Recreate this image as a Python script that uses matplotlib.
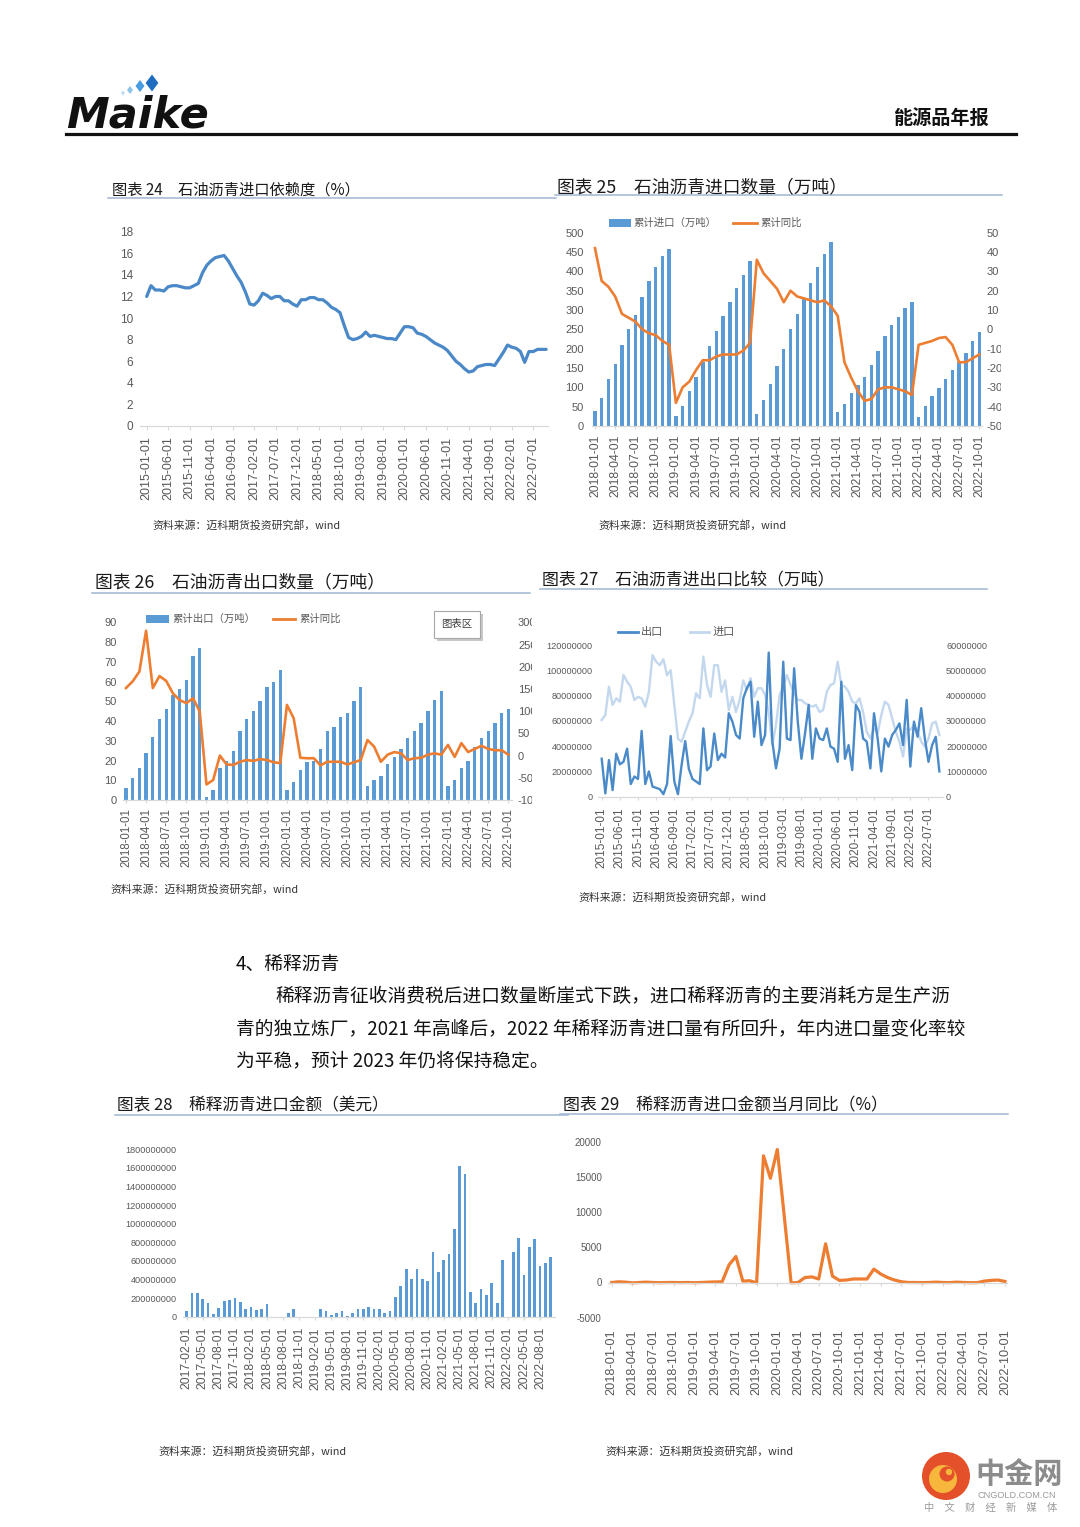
import numpy as np
import pandas as pd
import matplotlib
matplotlib.use('Agg')
import matplotlib.pyplot as plt
from matplotlib import font_manager as fm
from matplotlib.patches import Rectangle, Polygon, Circle
from matplotlib.transforms import Bbox, TransformedBbox

# ---------------------------------------------------------------- data
# Chart 24: import dependency (%), monthly 2015-01 .. 2022-10
dep_months = pd.date_range('2015-01-01', '2022-10-01', freq='MS')
dep_pct = [12.0, 13.0, 12.6, 12.6, 12.5, 12.9, 13.0, 13.0, 12.9, 12.8, 12.8, 13.0,
           13.2, 14.2, 14.9, 15.3, 15.6, 15.7, 15.8, 15.3, 14.6, 13.9, 13.3, 12.4,
           11.3, 11.2, 11.6, 12.3, 12.1, 11.8, 12.0, 12.0, 11.6, 11.6, 11.3, 11.1,
           11.7, 11.7, 11.9, 11.9, 11.7, 11.7, 11.4, 11.0, 10.8, 10.5, 9.3, 8.2,
           8.0, 8.1, 8.3, 8.7, 8.3, 8.4, 8.3, 8.2, 8.1, 8.1, 8.0, 8.6,
           9.2, 9.2, 9.1, 8.6, 8.5, 8.3, 8.0, 7.7, 7.5, 7.3, 7.0, 6.5,
           6.0, 5.7, 5.3, 5.0, 5.1, 5.5, 5.6, 5.7, 5.7, 5.6, 6.2, 6.8,
           7.5, 7.3, 7.2, 6.9, 5.9, 6.9, 6.9, 7.1, 7.1, 7.1]

# Charts 25/26: cumulative import / export (万吨) and cumulative YoY (%), 2018-01 .. 2022-10
m18 = pd.date_range('2018-01-01', '2022-10-01', freq='MS')
imp_cum = [38, 73, 121, 161, 210, 250, 288, 333, 375, 412, 440, 459,
           25, 52, 90, 128, 165, 208, 245, 285, 320, 357, 390, 428,
           30, 68, 108, 155, 200, 250, 290, 330, 370, 410, 445, 475,
           35, 58, 85, 105, 128, 158, 195, 232, 260, 283, 305, 320,
           22, 52, 78, 98, 122, 145, 165, 190, 220, 242]
imp_yoy = [42, 25, 22, 17, 8, 6, 4, 0, -2, -3, -6, -8,
           -38, -30, -27, -21, -16, -16, -14, -13, -13, -13, -11, -7,
           36, 29, 25, 21, 14, 20, 17, 16, 15, 14, 15, 12,
           7, -17, -25, -32, -37, -36, -31, -30, -30, -31, -32, -34,
           -8, -7, -6, -4.5, -4, -8, -17, -17, -15, -13]
exp_cum = [6, 11, 16, 24, 32, 41, 46, 53, 56, 61, 73, 77,
           1.5, 5, 16, 20, 25, 35, 41, 45, 50, 57, 60, 66,
           5, 9, 15, 19, 20, 26, 35, 37, 42, 44, 50, 57,
           7, 10, 12.4, 18, 22, 26, 31.5, 35, 39, 45, 50.6, 55,
           7, 10, 16, 20, 27, 31.5, 35, 39, 44, 46]
exp_yoy = [152, 167, 189, 281, 152, 179, 168, 140, 125, 118, 129, 99,
           -65, -55, 0, -20, -21, -14, -10, -12, -8, -10, -15, -17,
           114, 84, -5, -6, -6, -22, -14, -14, -14, -20, -15, -10,
           35, 20, -14, 2, 8, 5, -10, -6, -5, 2, 5, 2,
           24, -3, 28, 8, 15, 22, 15, 12, 12, 2]

# Chart 27: monthly export / import, 2015-01 .. 2022-10 (values in millions)
cmp_months = pd.date_range('2015-01-01', '2022-10-01', freq='MS')
cmp_export_mn = [15, 1.3, 14.5, 2.6, 17, 12.8, 13.8, 19, 5, 8, 7, 26,
                 5, 10, 4, 3.5, 3, 1, 5, 24, 6, 1, 12.5, 22,
                 11, 7, 6, 5, 27, 10.5, 12, 25, 14.5, 17, 15.5, 33,
                 29.7, 24.4, 23, 39, 43, 45.5, 23.7, 37.6, 20.4, 24.4, 57, 21.8,
                 11.2, 19, 53.4, 23, 22.4, 50.8, 29.7, 15, 25, 36.3, 15, 27,
                 23, 22.4, 27, 19.8, 19, 13.8, 45.5, 15, 20.4, 10.5, 36.3, 33.6,
                 23, 21.8, 11.2, 33, 23, 10, 23, 19.8, 24.4, 26.4, 29, 20.4,
                 38.3, 11.9, 29.7, 23.7, 35, 23, 13.8, 20.4, 23.7, 10]
cmp_import_mn = [60.7, 64.6, 87, 72.6, 77.8, 75.2, 96.3, 91, 87, 76.5, 79, 77.8,
                 71.2, 83, 112, 106.8, 104, 108.7, 96, 100, 72.6, 46, 43.5, 51.4,
                 59.4, 66, 81.8, 77.8, 110.8, 88.4, 79, 104, 104, 83, 92, 68.6,
                 79, 67, 76.5, 92, 84.4, 93.7, 79, 85.8, 85.8, 80.5, 67, 40.9,
                 56.7, 80.5, 87, 96.3, 88.4, 81.8, 76.5, 76.5, 73.9, 72.6, 71.2, 72.6,
                 67, 68.6, 83, 88.4, 89.7, 106.8, 88.4, 87, 83, 75.2, 73.9, 77.8,
                 67, 51.4, 46, 54, 50, 64.6, 75.2, 72.6, 62, 51.4, 43.5, 31.7,
                 54, 52.8, 56.7, 51.4, 43.5, 39.6, 46, 58, 59.4, 48.8]

# Chart 28: diluted bitumen import amount (USD, in 1e8), 2017-02 .. 2022-10
dil_months = pd.date_range('2017-02-01', '2022-10-01', freq='MS')
dil_amount_e8 = [0.65, 2.6, 2.6, 1.9, 1.45, 0.3, 0.9, 1.7, 1.8, 2.0, 1.55, 0.8,
                 1.0, 0.7, 0.8, 1.4, 0, 0, 0, 0.4, 0.8, 0, 0, 0,
                 0, 0.8, 0.65, 0.2, 0.4, 0.6, 0.1, 0.45, 0.8, 0.8, 1.0, 0.8,
                 0.8, 0.35, 0.65, 2.15, 3.3, 5.1, 4.1, 5.1, 4.05, 3.8, 6.95, 4.85,
                 6.1, 6.75, 9.4, 16.2, 15.3, 2.7, 1.45, 2.95, 2.35, 3.6, 1.45, 6.1,
                 0, 6.95, 8.45, 4.45, 7.5, 8.35, 5.5, 5.75, 6.45]

# Chart 29: monthly YoY of diluted bitumen import amount (%), 2018-01 .. 2022-10
dil_yoy = [0, 100, 50, -50, 0, 50, 0, -30, 0, 0, -20, 0,
           -30, 0, 50, 80, 100, 2500, 3700, 200, 250, -50, 18000, 14800,
           18900, 9500, -50, 0, 700, 800, 500, 5500, 900, 300, 350, 500,
           500, 500, 1900, 1200, 700, 350, 100, 0, 0, -20, 0, 50,
           0, -20, 50, 0, -30, -20, 200, 300, 350, 150]

# ---------------------------------------------------------------- style
W, H = 1080, 1527
CJK = 'Noto Sans CJK SC'
REG = 'Liberation Sans'
plt.rcParams['font.family'] = [REG, CJK, 'DejaVu Sans']
plt.rcParams['axes.unicode_minus'] = False

BAR = '#5b9bd5'
ORG = '#ed7d31'
LINE = '#4a88c7'
DARK = '#4a8ac9'
LIGHT = '#c3d8ee'
TICKC = '#595959'
AXC = '#d9d9d9'
ULINE = '#9fb6d3'

fig = plt.figure(figsize=(W / 100, H / 100), dpi=100)
fig.patch.set_facecolor('white')

# overlay in pixel coordinates for page decorations
ov = fig.add_axes([0, 0, 1, 1])
ov.set_xlim(0, W)
ov.set_ylim(H, 0)
ov.set_autoscale_on(False)
ov.axis('off')


def base_axes(x0, x1, ytop, ybot):
    ax = fig.add_axes([x0 / W, 1 - ybot / H, (x1 - x0) / W, (ybot - ytop) / H])
    ax.patch.set_alpha(0)
    for s in ax.spines.values():
        s.set_visible(False)
    return ax


def set_xcats(ax, labels, step, size, tick_len=2.5, pad=4.5):
    pos = np.arange(0, len(labels), step)
    ax.set_xticks(pos)
    ax.set_xticklabels([labels[i] for i in pos], rotation=90, fontsize=size,
                       color=TICKC, family=[REG, CJK])
    ax.tick_params(axis='x', length=tick_len, width=0.8, color=AXC, pad=pad)
    ax.spines['bottom'].set_visible(True)
    ax.spines['bottom'].set_color(AXC)
    ax.spines['bottom'].set_linewidth(0.9)


def set_yvals(ax, ticks, size, pad):
    ax.set_yticks(ticks)
    ax.set_yticklabels([f'{t:.0f}' for t in ticks], fontsize=size, color=TICKC,
                       family=[REG, CJK])
    ax.tick_params(axis='y', length=0, pad=pad)


def clip_labels(ax, xclip):
    bb = TransformedBbox(Bbox([[0, 0], [xclip / W, 1]]), fig.transFigure)
    for lab in ax.get_yticklabels():
        lab.set_clip_box(bb)
        lab.set_clip_on(True)


def title(x, y, s, size, x0, x1, yl):
    ov.text(x, y, s, fontsize=size, family=[CJK], color='#1a1a1a', va='center', ha='left')
    ov.plot([x0, x1], [yl, yl], color=ULINE, lw=1.1)


def source(x, y):
    ov.text(x, y, '资料来源：迈科期货投资研究部，wind', fontsize=7.8, family=[CJK],
            color='#333333', va='center', ha='left')


def dlabels(idx):
    return [d.strftime('%Y-%m-%d') for d in idx]


# ---------------------------------------------------------------- header
ov.text(66, 127, 'Maike', fontsize=31, family='DejaVu Sans', weight='bold',
        style='italic', color='#111111', va='baseline', ha='left')
for cx, cy, h, c in [(123, 93, 2.5, '#b9dcf5'), (130, 90, 4, '#8fc3ea'),
                     (140, 86, 6, '#4a9be0'), (152, 83, 8.5, '#1d6cc0')]:
    ov.add_patch(Polygon([(cx, cy - h), (cx + h * 0.75, cy), (cx, cy + h), (cx - h * 0.75, cy)],
                         closed=True, color=c, lw=0))
ov.text(893, 119, '能源品年报', fontsize=13.8, family=[CJK], weight='bold', color='#111111',
        va='center', ha='left')
ov.plot([66, 1016], [133.5, 133.5], color='#111111', lw=2.3)

# ---------------------------------------------------------------- chart 24
title(112, 190, '图表 24　石油沥青进口依赖度（%）', 11, 108, 556, 198)
ax = base_axes(140, 548.3, 231.7, 426)
x = np.arange(len(dep_pct))
ax.plot(x, dep_pct, color=LINE, lw=2.3, solid_joinstyle='round', solid_capstyle='round')
ax.set_xlim(-1.56, 93.5)
ax.set_ylim(0, 18)
set_yvals(ax, np.arange(0, 19, 2), 8.5, 5)
set_xcats(ax, dlabels(dep_months), 5, 9, tick_len=3, pad=4.5)
source(152, 525)

# ---------------------------------------------------------------- chart 25
title(557, 187, '图表 25　石油沥青进口数量（万吨）', 12.8, 555, 1002, 195)
ax = base_axes(591.6, 982, 232.7, 426)
x = np.arange(len(imp_cum))
ax.bar(x, imp_cum, width=0.5, color=BAR, zorder=2)
ax.set_xlim(-0.5, 57.4)
ax.set_ylim(0, 500)
set_yvals(ax, np.arange(0, 501, 50), 8, 5.5)
set_xcats(ax, dlabels(m18), 3, 8.8, tick_len=2.2, pad=4)
ax2 = ax.twinx()
for s in ax2.spines.values():
    s.set_visible(False)
ax2.plot(x, imp_yoy, color=ORG, lw=1.9, solid_joinstyle='round')
ax2.set_ylim(-50, 50)
ax2.set_xlim(-0.5, 57.4)
set_yvals(ax2, np.arange(-50, 51, 10), 8, 3.2)
clip_labels(ax2, 1001)
ov.add_patch(Rectangle((609, 219), 22, 8, color=BAR, lw=0))
ov.text(633, 223, '累计进口（万吨）', fontsize=7.5, family=[CJK], color=TICKC, va='center')
ov.plot([733, 757], [223, 223], color=ORG, lw=2)
ov.text(760, 223, '累计同比', fontsize=7.5, family=[CJK], color=TICKC, va='center')
source(598, 525)

# ---------------------------------------------------------------- chart 26
title(95, 582, '图表 26　石油沥青出口数量（万吨）', 12.8, 92, 530, 593)
ax = base_axes(122.6, 511.7, 622.3, 800)
x = np.arange(len(exp_cum))
ax.bar(x, exp_cum, width=0.5, color=BAR, zorder=2)
ax.set_xlim(-0.5, 57.5)
ax.set_ylim(0, 90)
set_yvals(ax, np.arange(0, 91, 10), 8, 4.3)
set_xcats(ax, dlabels(m18), 3, 8.3, tick_len=2.2, pad=3.5)
ax2 = ax.twinx()
for s in ax2.spines.values():
    s.set_visible(False)
ax2.plot(x, exp_yoy, color=ORG, lw=1.9, solid_joinstyle='round')
ax2.set_ylim(-100, 300)
ax2.set_xlim(-0.5, 57.5)
set_yvals(ax2, np.arange(-100, 301, 50), 8, 4.5)
clip_labels(ax2, 532)
ov.add_patch(Rectangle((146, 615), 23, 7.5, color=BAR, lw=0))
ov.text(172, 619, '累计出口（万吨）', fontsize=7.5, family=[CJK], color=TICKC, va='center')
ov.plot([273, 295], [619, 619], color=ORG, lw=2)
ov.text(299, 619, '累计同比', fontsize=7.5, family=[CJK], color=TICKC, va='center')
ov.add_patch(Rectangle((437, 614), 46, 27, color='#c8c8c8', lw=0))
ov.add_patch(Rectangle((434, 611), 46, 27, facecolor='white', edgecolor='#a6a6a6', lw=0.8))
ov.text(457, 624.5, '图表区', fontsize=7.5, family=[CJK], color='#404040', va='center', ha='center')
source(110, 889)

# ---------------------------------------------------------------- chart 27
title(542, 580, '图表 27　石油沥青进出口比较（万吨）', 12.2, 540, 987, 589)
ax = base_axes(598, 943, 645, 796.7)
x = np.arange(len(cmp_import_mn))
ax.plot(x, np.array(cmp_import_mn) * 1e6, color=LIGHT, lw=1.7, solid_joinstyle='round')
ax.set_xlim(-1.02, 94)
ax.set_ylim(0, 120e6)
set_yvals(ax, np.arange(0, 120e6 + 1, 20e6), 6.6, 3.8)
set_xcats(ax, dlabels(cmp_months), 5, 8.5, tick_len=2.5, pad=5)
ax2 = ax.twinx()
for s in ax2.spines.values():
    s.set_visible(False)
ax2.plot(x, np.array(cmp_export_mn) * 1e6, color=DARK, lw=1.7, solid_joinstyle='round')
ax2.set_xlim(-1.02, 94)
ax2.set_ylim(0, 60e6)
set_yvals(ax2, np.arange(0, 60e6 + 1, 10e6), 6.6, 2.2)
ov.plot([618, 638], [632, 632], color=DARK, lw=2)
ov.text(641, 632, '出口', fontsize=8, family=[CJK], color=TICKC, va='center')
ov.plot([690, 709], [632, 632], color=LIGHT, lw=2)
ov.text(713, 632, '进口', fontsize=8, family=[CJK], color=TICKC, va='center')
source(578, 897)

# ---------------------------------------------------------------- text block
BODY = dict(fontsize=13.5, family=[CJK], color='#111111', va='center', ha='left')
ov.text(236, 964, '4、稀释沥青', **BODY)
ov.text(275, 997, '稀释沥青征收消费税后进口数量断崖式下跌，进口稀释沥青的主要消耗方是生产沥', **BODY)
ov.text(236, 1029, '青的独立炼厂，2021 年高峰后，2022 年稀释沥青进口量有所回升，年内进口量变化率较', **BODY)
ov.text(236, 1061, '为平稳，预计 2023 年仍将保持稳定。', **BODY)

# ---------------------------------------------------------------- chart 28
title(117, 1106, '图表 28　稀释沥青进口金额（美元）', 12, 115, 568, 1115)
ax = base_axes(183, 555, 1149.3, 1316.7)
x = np.arange(len(dil_amount_e8))
ax.bar(x, np.array(dil_amount_e8) * 1e8, width=0.5, color=BAR, zorder=2)
ax.set_xlim(-0.69, 68.8)
ax.set_ylim(0, 1.8e9)
set_yvals(ax, np.arange(0, 1.8e9 + 1, 2e8), 6.6, 4.5)
set_xcats(ax, dlabels(dil_months), 3, 8.7, tick_len=2.5, pad=5)
source(158, 1451)

# ---------------------------------------------------------------- chart 29
title(563, 1105, '图表 29　稀释沥青进口金额当月同比（%）', 12.2, 560, 1008, 1114)
ax = base_axes(608, 1006.7, 1141.7, 1317.7)
ax.spines['bottom'].set_position(('data', 0))
x = np.arange(len(dil_yoy))
ax.plot(x, dil_yoy, color=ORG, lw=2.3, solid_joinstyle='round')
ax.set_xlim(-0.54, 57.25)
ax.set_ylim(-5000, 20000)
set_yvals(ax, np.arange(-5000, 20001, 5000), 7, 4.5)
set_xcats(ax, dlabels(m18), 3, 9.2, tick_len=2.5, pad=31)
source(605, 1451)

# ---------------------------------------------------------------- watermark
ov.add_patch(Circle((946, 1476), 24, color='#e4502a', lw=0))
ov.add_patch(Circle((943, 1479), 14, color='#f6b73c', lw=0))
ov.add_patch(Circle((947, 1474), 7.5, color='#e4502a', lw=0))
ov.add_patch(Circle((949, 1472), 3.2, color='#f6b73c', lw=0))
ov.text(975, 1474, '中金网', fontsize=21, family=[CJK], weight='bold', color='#8c8c8c',
        va='center', ha='left')
ov.text(978, 1496, 'CNGOLD.COM.CN', fontsize=6.6, family=[REG], color='#9a9a9a',
        va='center', ha='left')
ov.text(924, 1508, '中　文　财　经　新　媒　体', fontsize=7.4, family=[CJK], color='#9a9a9a',
        va='center', ha='left')

fig.savefig('out.png', dpi=100, facecolor='white')
